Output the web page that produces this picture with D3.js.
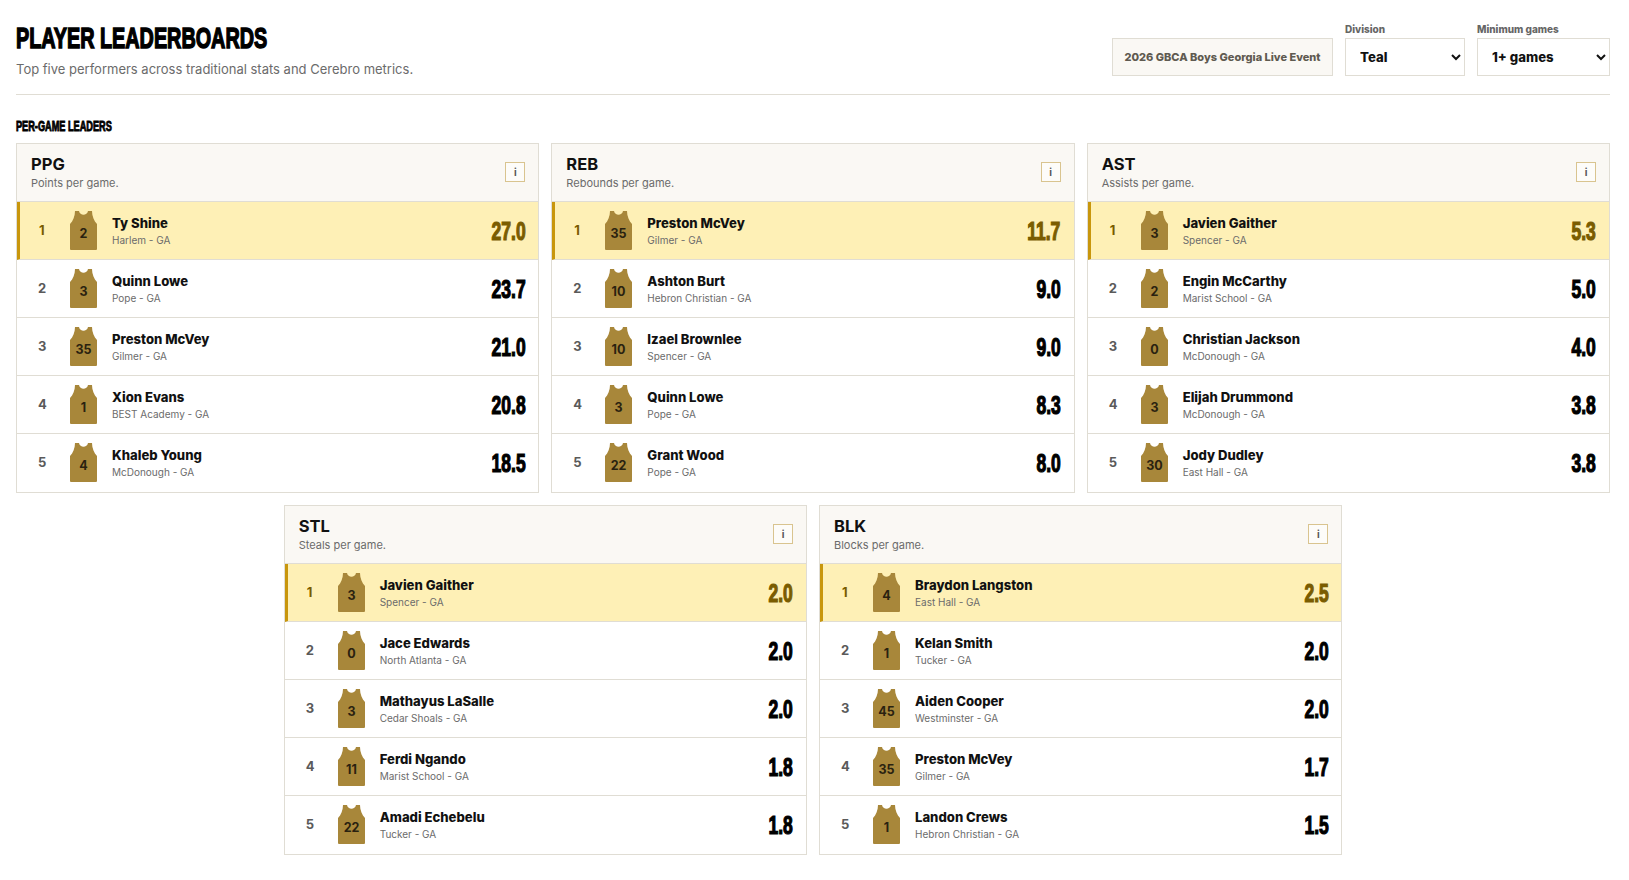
<!DOCTYPE html>
<html>
<head>
<meta charset="utf-8">
<script src="https://cdn.jsdelivr.net/npm/d3@7"></script>
<style>
  * { box-sizing: border-box; }
  body { margin: 0; padding: 16px; background: #fff; font-family: Inter, sans-serif; color: #111; width: 1626px; }
  .impact { font-family: "Liberation Sans", sans-serif; font-weight: 700; }
  .top { display: flex; justify-content: space-between; align-items: flex-end; height: 79px; border-bottom: 1px solid #e0ddd4; padding-bottom: 18px; }
  .top > div:first-child { align-self: flex-start; }
  h1 { margin: 6px 0 0; font-size: 30px; line-height: 32px; color: #000; transform: scaleX(0.66); transform-origin: left center; white-space: nowrap; -webkit-text-stroke: 1.5px #000; }
  .sub { font-size: 13px; color: #6b6b6b; margin-top: 7px; }
  .controls { display: flex; gap: 12px; align-items: flex-end; }
  .event { height: 38px; width: 221px; background: #faf8f4; border: 1px solid #e0ddd4; color: #5f5a50; font-size: 11px; font-weight: 800; display: flex; align-items: center; justify-content: center; }
  .ctl label { display: block; font-size: 10px; font-weight: 800; color: #666; margin-bottom: 3px; }
  select { display: block; height: 38px; border: 1px solid #e0ddd4; background: #fff; font-family: Inter, sans-serif; font-size: 13.2px; font-weight: 800; color: #111; padding: 0 10px; border-radius: 0; }
  h2 { font-size: 14px; margin: 23px 0 8px; line-height: 17px; color: #000; transform: scaleX(0.655); transform-origin: left center; white-space: nowrap; -webkit-text-stroke: 0.9px #000; }
  .grid { display: flex; flex-wrap: wrap; justify-content: center; gap: 12px; }
  .card { width: 523.33px; border: 1px solid #e0ddd4; background: #fff; }
  .head { height: 58px; background: #faf8f4; padding: 10px 14px; position: relative; border-bottom: 1px solid #e0ddd4; }
  .head .k { font-size: 16.5px; font-weight: 700; line-height: 20px; color: #111; }
  .head .d { font-size: 11px; color: #6b6b6b; line-height: 15px; margin-top: 2px; }
  .info { position: absolute; right: 13px; top: 18px; width: 20px; height: 20px; border: 1px solid #d9c48f; background: #fdfcf9; color: #555; font-size: 10px; font-weight: 700; display: flex; align-items: center; justify-content: center; }
  .row { height: 58px; position: relative; border-bottom: 1px solid #e0ddd4; }
  .row:last-child { border-bottom: 0; }
  .row.first { background: #fef0b6; border-left: 3px solid #c8960c; }
  .rank { position: absolute; left: 21px; top: 0; line-height: 57px; font-size: 13px; font-weight: 700; color: #5a5a5a; }
  .row.first .rank { left: 19px; color: #7a5c00; }
  .jersey { position: absolute; left: 53px; top: 9px; }
  .row.first .jersey { left: 50px; }
  .name { position: absolute; left: 95px; top: 13px; font-size: 13.1px; font-weight: 800; color: #111; line-height: 17px; }
  .team { position: absolute; left: 95px; top: 31px; font-size: 10px; color: #6b6b6b; line-height: 14px; }
  .row.first .name, .row.first .team { margin-left: -3px; }
  .val { position: absolute; right: 13px; top: 0; line-height: 59px; font-size: 25px; color: #000; transform: scaleX(0.7); transform-origin: right center; -webkit-text-stroke: 1.2px currentColor; }
  .row.first .val { color: #7a5c00; }
</style>
</head>
<body>
<div class="top">
  <div>
    <h1 class="impact">PLAYER LEADERBOARDS</h1>
    <div class="sub">Top five performers across traditional stats and Cerebro metrics.</div>
  </div>
  <div class="controls">
    <div class="event">2026 GBCA Boys Georgia Live Event</div>
    <div class="ctl"><label>Division</label><select style="width:120px"><option>Teal</option></select></div>
    <div class="ctl"><label>Minimum games</label><select style="width:133px"><option>1+ games</option></select></div>
  </div>
</div>
<h2 class="impact">PER-GAME LEADERS</h2>
<div class="grid" id="grid"></div>
<script>
const metrics = ["PPG", "REB", "AST", "STL", "BLK"];
const descriptions = ["Points per game.", "Rebounds per game.", "Assists per game.", "Steals per game.", "Blocks per game."];

const ppgPlayers = [["Ty Shine", "Harlem - GA", "2"], ["Quinn Lowe", "Pope - GA", "3"], ["Preston McVey", "Gilmer - GA", "35"], ["Xion Evans", "BEST Academy - GA", "1"], ["Khaleb Young", "McDonough - GA", "4"]];
const ppgValues = ["27.0", "23.7", "21.0", "20.8", "18.5"];
const rebPlayers = [["Preston McVey", "Gilmer - GA", "35"], ["Ashton Burt", "Hebron Christian - GA", "10"], ["Izael Brownlee", "Spencer - GA", "10"], ["Quinn Lowe", "Pope - GA", "3"], ["Grant Wood", "Pope - GA", "22"]];
const rebValues = ["11.7", "9.0", "9.0", "8.3", "8.0"];
const astPlayers = [["Javien Gaither", "Spencer - GA", "3"], ["Engin McCarthy", "Marist School - GA", "2"], ["Christian Jackson", "McDonough - GA", "0"], ["Elijah Drummond", "McDonough - GA", "3"], ["Jody Dudley", "East Hall - GA", "30"]];
const astValues = ["5.3", "5.0", "4.0", "3.8", "3.8"];
const stlPlayers = [["Javien Gaither", "Spencer - GA", "3"], ["Jace Edwards", "North Atlanta - GA", "0"], ["Mathayus LaSalle", "Cedar Shoals - GA", "3"], ["Ferdi Ngando", "Marist School - GA", "11"], ["Amadi Echebelu", "Tucker - GA", "22"]];
const stlValues = ["2.0", "2.0", "2.0", "1.8", "1.8"];
const blkPlayers = [["Braydon Langston", "East Hall - GA", "4"], ["Kelan Smith", "Tucker - GA", "1"], ["Aiden Cooper", "Westminster - GA", "45"], ["Preston McVey", "Gilmer - GA", "35"], ["Landon Crews", "Hebron Christian - GA", "1"]];
const blkValues = ["2.5", "2.0", "2.0", "1.7", "1.5"];

const allPlayers = [ppgPlayers, rebPlayers, astPlayers, stlPlayers, blkPlayers];
const allValues = [ppgValues, rebValues, astValues, stlValues, blkValues];

const cards = d3.select("#grid").selectAll(".card")
  .data(metrics)
  .join("div")
  .classed("card", true);

const head = cards.append("div").classed("head", true);
head.append("div").classed("k", true).text(d => d);
head.append("div").classed("d", true).text((d, i) => descriptions[i]);
head.append("div").classed("info", true).text("i");

const rows = cards.selectAll(".row")
  .data((d, i) => allPlayers[i].map((p, j) => ({ name: p[0], team: p[1], num: p[2], rank: j + 1, value: allValues[i][j] })))
  .join("div")
  .attr("class", d => d.rank === 1 ? "row first" : "row");

rows.append("div").classed("rank", true).text(d => d.rank);
rows.append("div").classed("name", true).text(d => d.name);
rows.append("div").classed("team", true).text(d => d.team);
rows.append("div").attr("class", "val impact").text(d => d.value);

const jersey = rows.append("svg")
  .classed("jersey", true)
  .attr("width", 27)
  .attr("height", 39)
  .attr("viewBox", "0 0 27 39");

jersey.append("path")
  .attr("d", "M5 0 L9 0 C10 5 17 5 18 0 L22 0 C22 5 24 10 27 13 L27 38 Q27 39 26 39 L1 39 Q0 39 0 38 L0 13 C3 10 5 5 5 0 Z")
  .attr("fill", "#a8873a");

jersey.append("text")
  .attr("x", 13.5)
  .attr("y", 27)
  .attr("text-anchor", "middle")
  .attr("font-size", 12.5)
  .attr("font-weight", 700)
  .attr("fill", "#2a2210")
  .text(d => d.num);
</script>
</body>
</html>
